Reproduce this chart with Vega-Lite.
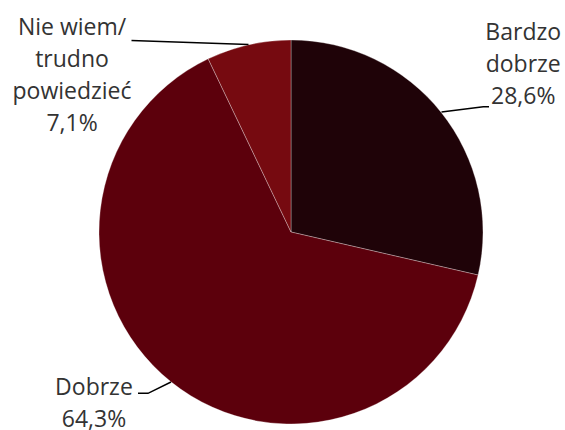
{
  "$schema": "https://vega.github.io/schema/vega-lite/v6.json",
  "width": 548,
  "height": 396,
  "autosize": "none",
  "padding": {"left": 17, "top": 34, "right": 0, "bottom": 0},
  "background": "white",
  "config": {"view": {"stroke": null}},
  "data": {
    "values": [
      {"kategoria": "Bardzo dobrze", "procent": 28.6, "etykieta": ["Bardzo", "dobrze", "28,6%"]},
      {"kategoria": "Dobrze", "procent": 64.3, "etykieta": ["Dobrze", "64,3%"]},
      {"kategoria": "Nie wiem/trudno powiedzieć", "procent": 7.1, "etykieta": ["Nie wiem/", "trudno", "powiedzieć", "7,1%"]}
    ]
  },
  "layer": [
    {
      "mark": {"type": "arc", "radius": 192, "stroke": "#ffffff", "strokeWidth": 0.6, "strokeOpacity": 0.5},
      "encoding": {
        "theta": {"field": "procent", "type": "quantitative", "stack": true},
        "order": {"field": "kategoria", "sort": "ascending"},
        "color": {
          "field": "kategoria",
          "type": "nominal",
          "scale": {
            "domain": ["Bardzo dobrze", "Dobrze", "Nie wiem/trudno powiedzieć"],
            "range": ["#1f0308", "#5c000c", "#760a10"]
          },
          "legend": null
        }
      }
    },
    {
      "mark": {"type": "point", "filled": false, "color": "#000000", "strokeWidth": 1.5, "size": 4, "opacity": 1},
      "encoding": {
        "shape": {
          "field": "kategoria",
          "type": "nominal",
          "scale": {
            "domain": ["Bardzo dobrze", "Dobrze", "Nie wiem/trudno powiedzieć"],
            "range": [
              "M150.5,-120L192.3,-125.3L198,-125.3",
              "M-120,150L-143,161.3L-153,161.3",
              "M-42.5,-187.5L-159.5,-191.5"
            ]
          },
          "legend": null
        }
      }
    },
    {
      "mark": {"type": "text", "radius": 192, "dx": 82, "dy": -79, "font": "Open Sans", "fontSize": 23, "lineHeight": 32, "align": "center", "baseline": "middle", "color": "#333333"},
      "encoding": {
        "theta": {"field": "procent", "type": "quantitative", "stack": true},
        "order": {"field": "kategoria", "sort": "ascending"},
        "detail": {"field": "kategoria", "type": "nominal"},
        "text": {"condition": {"test": "datum.kategoria === 'Bardzo dobrze'", "field": "etykieta", "type": "nominal"}, "value": ""}
      }
    },
    {
      "mark": {"type": "text", "radius": 192, "dx": -77, "dy": 6, "font": "Open Sans", "fontSize": 23, "lineHeight": 32, "align": "center", "baseline": "middle", "color": "#333333"},
      "encoding": {
        "theta": {"field": "procent", "type": "quantitative", "stack": true},
        "order": {"field": "kategoria", "sort": "ascending"},
        "detail": {"field": "kategoria", "type": "nominal"},
        "text": {"condition": {"test": "datum.kategoria === 'Dobrze'", "field": "etykieta", "type": "nominal"}, "value": ""}
      }
    },
    {
      "mark": {"type": "text", "radius": 192, "dx": -176.5, "dy": -17, "font": "Open Sans", "fontSize": 23, "lineHeight": 32, "align": "center", "baseline": "middle", "color": "#333333"},
      "encoding": {
        "theta": {"field": "procent", "type": "quantitative", "stack": true},
        "order": {"field": "kategoria", "sort": "ascending"},
        "detail": {"field": "kategoria", "type": "nominal"},
        "text": {"condition": {"test": "datum.kategoria === 'Nie wiem/trudno powiedzieć'", "field": "etykieta", "type": "nominal"}, "value": ""}
      }
    }
  ]
}
